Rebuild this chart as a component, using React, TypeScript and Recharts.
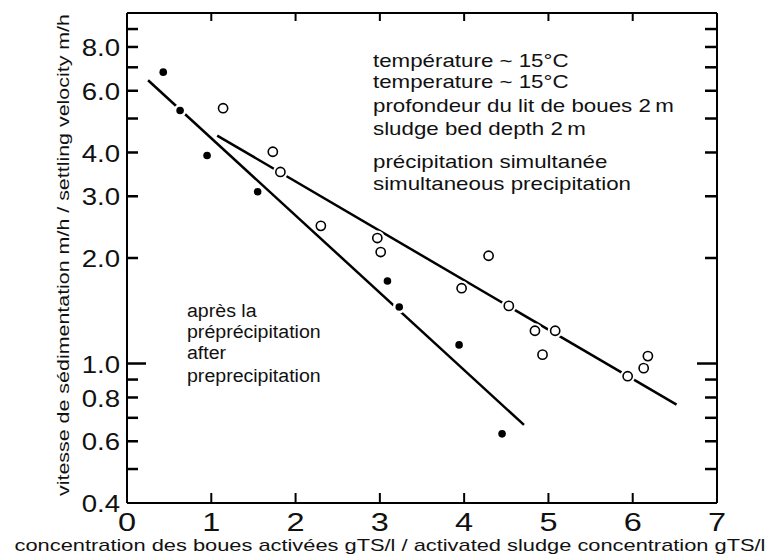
import React from 'react';
import { ComposedChart, Line, Scatter, XAxis, YAxis, ReferenceLine } from 'recharts';

const xTicks = [0, 1, 2, 3, 4, 5, 6, 7];
const xInnerTicks = [1, 2, 3, 4, 5, 6];
const yTicks = [0.4, 0.5, 0.6, 0.7, 0.8, 0.9, 1, 2, 3, 4, 5, 6, 7, 8, 9, 10];
const yInnerTicks = [0.5, 0.6, 0.7, 0.8, 0.9, 1, 2, 3, 4, 5, 6, 7, 8, 9];
const yLabels = [0.4, 0.6, 0.8, 1, 2, 3, 4, 6, 8];

// après la préprécipitation (filled dots)
const afterPre = [
  { x: 0.43, y: 6.78 }, { x: 0.63, y: 5.27 }, { x: 0.95, y: 3.92 }, { x: 1.55, y: 3.09 },
  { x: 3.09, y: 1.72 }, { x: 3.23, y: 1.45 }, { x: 3.94, y: 1.13 }, { x: 4.45, y: 0.63 },
];
// précipitation simultanée (open circles)
const simultaneous = [
  { x: 1.14, y: 5.35 }, { x: 1.73, y: 4.02 }, { x: 1.82, y: 3.52 }, { x: 2.3, y: 2.47 },
  { x: 2.97, y: 2.28 }, { x: 3.01, y: 2.08 }, { x: 3.97, y: 1.64 }, { x: 4.29, y: 2.03 },
  { x: 4.53, y: 1.46 }, { x: 4.84, y: 1.24 }, { x: 4.93, y: 1.06 }, { x: 5.08, y: 1.24 },
  { x: 5.94, y: 0.92 }, { x: 6.13, y: 0.97 }, { x: 6.18, y: 1.05 },
];
// fitted lines
const fitAfterPre = [{ x: 0.25, y: 6.43 }, { x: 4.71, y: 0.668 }];
const fitSimultaneous = [{ x: 1.07, y: 4.47 }, { x: 6.52, y: 0.763 }];

const notesRight = [
  'température ~ 15°C',
  'temperature ~ 15°C',
  'profondeur du lit de boues 2\u2009m',
  'sludge bed depth 2\u2009m',
  'précipitation simultanée',
  'simultaneous precipitation',
];
const notesLeft = ['après la', 'préprécipitation', 'after', 'preprecipitation'];

const xTitle = 'concentration des boues activées gTS/l / activated sludge concentration gTS/l';
const yTitle = 'vitesse de sédimentation m/h / settling velocity m/h';

const FONT = '"Liberation Sans", Arial, Helvetica, sans-serif';
const axisStroke = { stroke: '#000', strokeWidth: 2 };

// layout
const W = 777, H = 555, LEFT_W = 127, RIGHT_W = 60, TOP_H = 13, BOTTOM_H = 52;
const X_MIN = 0, X_MAX = 7, Y_MIN = 0.4, Y_MAX = 10;
// tick mark lengths (px) turned into data units so the library places them
const pxToX = (px: number) => (px * (X_MAX - X_MIN)) / (W - LEFT_W - RIGHT_W);
const pxToLogY = (px: number) => (px * Math.log10(Y_MAX / Y_MIN)) / (H - TOP_H - BOTTOM_H);

function LeftTick({ x, y, payload }: any) {
  const v = payload.value;
  if (!yLabels.includes(v)) return <g />;
  return (
    <text transform={`translate(${x - 7},${y + 1}) scale(1.2,1)`} textAnchor="end" dominantBaseline="central"
      fontSize={23} fontFamily={FONT} fill="#111">{v.toFixed(1)}</text>
  );
}

function BottomTick({ x, y, payload }: any) {
  return (
    <text transform={`translate(${x},${y + 28}) scale(1.3,1)`} textAnchor="middle" fontSize={25} fontFamily={FONT} fill="#111">
      {payload.value}
    </text>
  );
}

function XTitle({ viewBox }: any) {
  return (
    <text transform={`translate(${viewBox.x + viewBox.width / 2 - 32},${viewBox.y + 48}) scale(1.3,1)`} textAnchor="middle"
      fontSize={16.8} fontFamily={FONT} fill="#111">{xTitle}</text>
  );
}

function YTitle({ viewBox }: any) {
  return (
    <text transform={`translate(${viewBox.x + 69},${viewBox.y + viewBox.height / 2 - 3}) rotate(-90) scale(1.26,1)`} textAnchor="middle"
      fontSize={17} fontFamily={FONT} fill="#111">{yTitle}</text>
  );
}

function FilledDot({ cx, cy }: any) {
  return (
    <g>
      <circle cx={cx} cy={cy} r={6.5} fill="#fff" />
      <circle cx={cx} cy={cy} r={3.8} fill="#000" />
    </g>
  );
}

function OpenDot({ cx, cy }: any) {
  return (
    <g>
      <circle cx={cx} cy={cy} r={7.5} fill="#fff" />
      <circle cx={cx} cy={cy} r={4.6} fill="#fff" stroke="#000" strokeWidth={1.6} />
    </g>
  );
}

export default function App() {
  const ids = { xAxisId: 'b', yAxisId: 'l', ifOverflow: 'visible' as const, stroke: '#000' };
  return (
    <div style={{ position: 'absolute', left: 0, top: 0, width: W, height: H, background: '#fff' }}>
      <ComposedChart width={W} height={H} margin={{ top: 0, right: 0, bottom: 0, left: 0 }}>
        <XAxis xAxisId="b" dataKey="x" type="number" domain={[X_MIN, X_MAX]} ticks={xTicks} interval={0} height={BOTTOM_H}
          tickSize={0} tickMargin={0} tickLine={false} tick={<BottomTick />}
          axisLine={axisStroke} label={<XTitle />} />
        <XAxis xAxisId="t" orientation="top" dataKey="x" type="number" domain={[X_MIN, X_MAX]} ticks={xInnerTicks} height={TOP_H}
          tickLine={false} tick={false} axisLine={axisStroke} />
        <YAxis yAxisId="l" dataKey="y" scale="log" type="number" domain={[Y_MIN, Y_MAX]} ticks={yTicks} interval={0} width={LEFT_W}
          allowDataOverflow tickSize={0} tickMargin={0} tickLine={false} tick={<LeftTick />}
          axisLine={axisStroke} label={<YTitle />} />
        <YAxis yAxisId="r" orientation="right" dataKey="y" scale="log" type="number" domain={[Y_MIN, Y_MAX]} ticks={yTicks} width={RIGHT_W}
          allowDataOverflow tickLine={false} tick={false} axisLine={axisStroke} />
        {yInnerTicks.map((v) => (
          <ReferenceLine key={`l${v}`} {...ids} strokeWidth={2.5}
            segment={[{ x: X_MIN, y: v }, { x: X_MIN + pxToX(v === 1 ? 19 : 11), y: v }]} />
        ))}
        {yInnerTicks.map((v) => (
          <ReferenceLine key={`r${v}`} {...ids} strokeWidth={2.5}
            segment={[{ x: X_MAX - pxToX(v === 1 ? 20 : 12), y: v }, { x: X_MAX, y: v }]} />
        ))}
        {xInnerTicks.map((v) => (
          <ReferenceLine key={`t${v}`} {...ids} strokeWidth={2}
            segment={[{ x: v, y: Y_MAX }, { x: v, y: Y_MAX / 10 ** pxToLogY(8) }]} />
        ))}
        {xInnerTicks.map((v) => (
          <ReferenceLine key={`b${v}`} {...ids} strokeWidth={2}
            segment={[{ x: v, y: Y_MIN }, { x: v, y: Y_MIN * 10 ** pxToLogY(10) }]} />
        ))}
        <Line xAxisId="b" yAxisId="l" data={fitAfterPre} dataKey="y" type="linear" stroke="#000" strokeWidth={2.5}
          dot={false} activeDot={false} isAnimationActive={false} />
        <Line xAxisId="b" yAxisId="l" data={fitSimultaneous} dataKey="y" type="linear" stroke="#000" strokeWidth={2.5}
          dot={false} activeDot={false} isAnimationActive={false} />
        <Scatter xAxisId="b" yAxisId="l" data={afterPre} shape={<FilledDot />} isAnimationActive={false} />
        <Scatter xAxisId="b" yAxisId="l" data={simultaneous} shape={<OpenDot />} isAnimationActive={false} />
      </ComposedChart>
      <svg width={W} height={H} style={{ position: 'absolute', left: 0, top: 0, pointerEvents: 'none' }}>
        {notesRight.map((t, i) => (
          <text key={t} transform={`translate(373,${[67, 88, 112, 135, 168, 190][i]}) scale(1.24,1)`}
            fontSize={18} fontFamily={FONT} fill="#111">{t}</text>
        ))}
        {notesLeft.map((t, i) => (
          <text key={t} transform={`translate(187,${[317, 338, 359, 382][i]}) scale(1.03,1)`}
            fontSize={19} fontFamily={FONT} fill="#111">{t}</text>
        ))}
      </svg>
    </div>
  );
}
